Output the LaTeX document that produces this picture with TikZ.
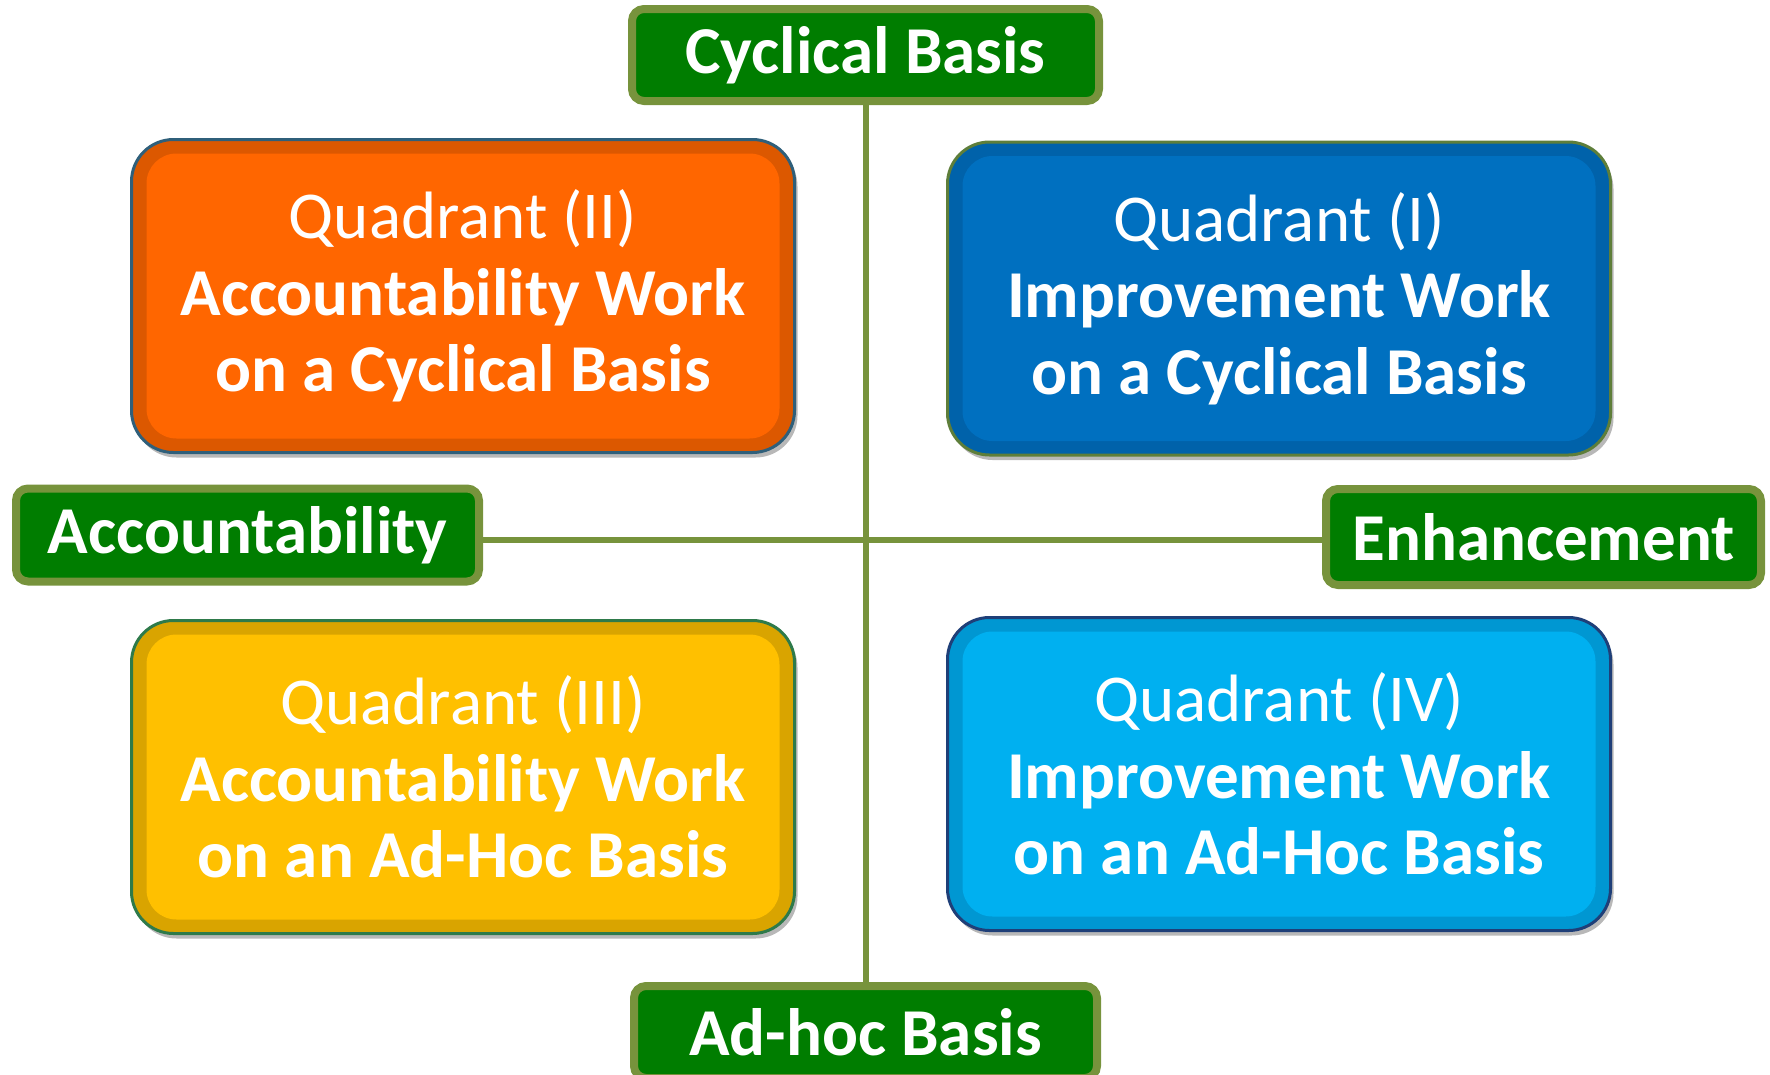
\documentclass[tikz,border=0pt]{standalone}
\usepackage{fontspec}
\setmainfont{Carlito}
\usetikzlibrary{shadows}
\definecolor{lblgreen}{HTML}{007D00}
\definecolor{olive}{HTML}{77933C}
\definecolor{orMain}{HTML}{FF6600}
\definecolor{orBand}{HTML}{DC5800}
\definecolor{orEdge}{HTML}{2F5F7A}
\definecolor{blMain}{HTML}{0070C0}
\definecolor{blBand}{HTML}{0062AA}
\definecolor{blEdge}{HTML}{5E7E3A}
\definecolor{yeMain}{HTML}{FFC000}
\definecolor{yeBand}{HTML}{D9A400}
\definecolor{yeEdge}{HTML}{2E7A4A}
\definecolor{cyMain}{HTML}{00B0F0}
\definecolor{cyBand}{HTML}{0097D2}
\definecolor{cyEdge}{HTML}{1F3F78}
\tikzset{
  lbl/.style={draw=olive, line width=8pt, fill=lblgreen, rounded corners=12pt,
    text=white, font=\fontsize{67}{78}\selectfont\bfseries, inner sep=0pt,
    minimum height=92pt},
  quad/.style n args={3}{draw=#3, line width=3pt, fill=#2, rounded corners=42pt,
    minimum width=663pt, minimum height=313pt, inner sep=0pt, align=center,
    text=white, font=\fontsize{67}{76.5}\selectfont,
    drop shadow={shadow xshift=3pt, shadow yshift=-5pt, opacity=0.28, fill=black},
    path picture={\fill[#1, rounded corners=30pt]
      ([shift={(15pt,-14pt)}]path picture bounding box.north west) rectangle
      ([shift={(-15pt,14pt)}]path picture bounding box.south east);}},
  axis/.style={draw=olive, line width=6pt}
}
\begin{document}
\begin{tikzpicture}[x=1pt,y=-1pt]
\useasboundingbox (0,0) rectangle (1770,1074);
\clip (0,0) rectangle (1770,1074);
% quadrant boxes
\node[quad={orMain}{orBand}{orEdge}] (q2) at (463,296)
  {Quadrant (II)\\\textbf{Accountability Work}\\\textbf{on a Cyclical Basis}};
\node[quad={blMain}{blBand}{blEdge}] (q1) at (1279,298.5)
  {Quadrant (I)\\\textbf{Improvement Work}\\\textbf{on a Cyclical Basis}};
\node[quad={yeMain}{yeBand}{yeEdge}] (q3) at (463,777)
  {Quadrant (III)\\\textbf{Accountability Work}\\\textbf{on an Ad-Hoc Basis}};
\node[quad={cyMain}{cyBand}{cyEdge}] (q4) at (1279,774)
  {Quadrant (IV)\\\textbf{Improvement Work}\\\textbf{on an Ad-Hoc Basis}};
% axis labels
\node[lbl, minimum width=467pt] (top) at (865.5,55) {Cyclical Basis};
\node[lbl, minimum width=463pt] (bot) at (865.5,1032) {Ad-hoc Basis};
\node[lbl, minimum width=463pt, minimum height=93pt] (acc) at (247.5,535) {Accountability};
\node[lbl, minimum width=435pt, minimum height=96pt] (enh) at (1543.5,537) {Enhancement};
\coordinate (ctr) at (865.5,540);
% axes
\draw[axis] (top) -- (bot);
\draw[axis] (acc.east |- ctr) -- (enh.west |- ctr);
\end{tikzpicture}
\end{document}
